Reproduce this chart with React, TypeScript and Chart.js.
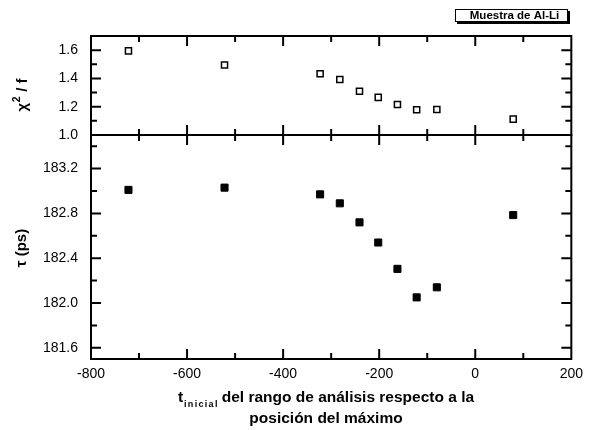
import { useEffect, useRef } from "react";
import { Chart, registerables } from "chart.js";

Chart.register(...registerables);

// ---- data ----
const tInicial = [-722, -522, -323, -282, -241, -202, -162, -122, -80, 79];
const chiValues = [1.595, 1.495, 1.433, 1.393, 1.309, 1.266, 1.216, 1.179, 1.18, 1.112];
const tauValues = [183.01, 183.03, 182.97, 182.89, 182.72, 182.54, 182.305, 182.05, 182.14, 182.785];

const xTicks = [-800, -600, -400, -200, 0, 200];
const xMinorTicks = [-700, -500, -300, -100, 100];
const chiTicks = [1.0, 1.2, 1.4, 1.6];
const chiMinorTicks = [1.1, 1.3, 1.5];
const tauTicks = [181.6, 182.0, 182.4, 182.8, 183.2];
const tauMinorTicks = [181.8, 182.2, 182.6, 183.0, 183.4];

const legendLabel = "Muestra de Al-Li";
const chiTitleParts = ["\u03c7", "2", " / f"];
const tauTitle = "\u03c4 (ps)";
const xTitleMain = "t";
const xTitleSub = "inicial";
const xTitleRest = "del rango de análisis respecto a la";
const xTitleLine2 = "posición del máximo";

const FONT = "'Liberation Sans', Arial, Helvetica, sans-serif";

const framePlugin = {
  id: "frameTicks",
  afterDraw(chart: any) {
    const ctx = chart.ctx as CanvasRenderingContext2D;
    const area = chart.chartArea;
    const xs = chart.scales.x;
    const panels = [
      { s: chart.scales.yChi, major: chiTicks, minor: chiMinorTicks, ty: 95, chi: true },
      { s: chart.scales.yTau, major: tauTicks, minor: tauMinorTicks, ty: 248, chi: false },
    ];
    ctx.save();
    ctx.strokeStyle = "#000";
    ctx.fillStyle = "#000";
    ctx.lineCap = "butt";
    for (const p of panels) {
      const s = p.s;
      const top = s.top;
      const bot = s.bottom;
      ctx.lineWidth = 2;
      ctx.strokeRect(area.left, top, area.right - area.left, bot - top);
      const tick = (vals: number[], len: number) => {
        ctx.beginPath();
        for (const v of vals) {
          const py = s.getPixelForValue(v);
          if (py <= top + 1 || py >= bot - 1) continue;
          ctx.moveTo(area.left, py);
          ctx.lineTo(area.left + len, py);
          ctx.moveTo(area.right, py);
          ctx.lineTo(area.right - len, py);
        }
        ctx.stroke();
      };
      tick(p.major, 10);
      tick(p.minor, 6);
      const xtick = (vals: number[], len: number) => {
        ctx.beginPath();
        for (const v of vals) {
          const px = xs.getPixelForValue(v);
          if (px <= area.left + 1 || px >= area.right - 1) continue;
          ctx.moveTo(px, top);
          ctx.lineTo(px, top + len);
          ctx.moveTo(px, bot);
          ctx.lineTo(px, bot - len);
        }
        ctx.stroke();
      };
      xtick(xTicks, 10);
      xtick(xMinorTicks, 6);

      // y titles
      ctx.save();
      ctx.translate(22, p.ty);
      ctx.rotate(-Math.PI / 2);
      ctx.textBaseline = "middle";
      const big = `bold 15px ${FONT}`;
      const small = `bold 10.5px ${FONT}`;
      if (p.chi) {
        ctx.font = big;
        const w0 = ctx.measureText(chiTitleParts[0]).width;
        const w2 = ctx.measureText(chiTitleParts[2]).width;
        ctx.font = small;
        const w1 = ctx.measureText(chiTitleParts[1]).width;
        let x = -(w0 + w1 + 1 + w2) / 2;
        ctx.textAlign = "left";
        ctx.font = big;
        ctx.fillText(chiTitleParts[0], x, 1);
        x += w0 + 0.5;
        ctx.font = small;
        ctx.fillText(chiTitleParts[1], x, -4.5);
        x += w1 + 0.5;
        ctx.font = big;
        ctx.fillText(chiTitleParts[2], x, 1);
      } else {
        ctx.font = big;
        ctx.textAlign = "center";
        ctx.fillText(tauTitle, 0, 0);
      }
      ctx.restore();
    }

    // x title
    const cx = 326;
    ctx.textBaseline = "alphabetic";
    ctx.textAlign = "left";
    const mainFont = `bold 15.5px ${FONT}`;
    const subFont = `bold 9px ${FONT}`;
    ctx.font = mainFont;
    const wT = ctx.measureText(xTitleMain).width;
    const wRest = ctx.measureText(xTitleRest).width;
    ctx.font = subFont;
    const spacing = 1.3;
    let wSub = 0;
    for (const ch of xTitleSub) wSub += ctx.measureText(ch).width + spacing;
    const gap = 4;
    const total = wT + wSub + gap + wRest;
    let x0 = cx - total / 2;
    const base1 = 402;
    ctx.font = mainFont;
    ctx.fillText(xTitleMain, x0, base1);
    x0 += wT + 1;
    ctx.font = subFont;
    for (const ch of xTitleSub) {
      ctx.fillText(ch, x0, base1 + 5);
      x0 += ctx.measureText(ch).width + spacing;
    }
    x0 += gap - 1;
    ctx.font = mainFont;
    ctx.fillText(xTitleRest, x0, base1);
    ctx.textAlign = "center";
    ctx.fillText(xTitleLine2, cx, 423);

    // legend box
    const bx = 455, by = 9, bw = 113, bh = 13;
    ctx.fillStyle = "#000";
    ctx.fillRect(bx + 2, by + 2, bw, bh);
    ctx.fillStyle = "#fff";
    ctx.fillRect(bx, by, bw, bh);
    ctx.strokeStyle = "#000";
    ctx.lineWidth = 1;
    ctx.strokeRect(bx + 0.5, by + 0.5, bw - 1, bh - 1);
    ctx.fillStyle = "#000";
    ctx.font = `bold 11.5px ${FONT}`;
    ctx.textAlign = "center";
    ctx.textBaseline = "middle";
    ctx.fillText(legendLabel, bx + bw / 2 + 3, by + bh / 2 + 0.5);
    ctx.restore();
  },
};

const tickFont = { family: FONT, size: 14 };

export default function App() {
  const ref = useRef<HTMLCanvasElement>(null);
  useEffect(() => {
    const canvas = ref.current;
    if (!canvas) return;
    const chart = new Chart(canvas, {
      type: "scatter",
      data: {
        datasets: [
          {
            label: "chi2/f",
            data: tInicial.map((x, i) => ({ x, y: chiValues[i] })),
            yAxisID: "yChi",
            pointStyle: "rect",
            pointRadius: 4.3,
            pointBorderWidth: 1.5,
            pointBackgroundColor: "#fff",
            pointBorderColor: "#000",
            showLine: false,
          },
          {
            label: "tau",
            data: tInicial.map((x, i) => ({ x, y: tauValues[i] })),
            yAxisID: "yTau",
            pointStyle: "rect",
            pointRadius: 5,
            pointBorderWidth: 1,
            pointBackgroundColor: "#000",
            pointBorderColor: "#000",
            showLine: false,
          },
        ],
      },
      options: {
        animation: false,
        responsive: false,
        maintainAspectRatio: false,
        layout: { padding: { top: 36, right: 12, left: 0, bottom: 0 } },
        plugins: { legend: { display: false }, tooltip: { enabled: false } },
        scales: {
          x: {
            type: "linear",
            position: "bottom",
            min: -800,
            max: 200,
            grid: { display: false, drawTicks: false },
            border: { display: false },
            afterBuildTicks: (s: any) => {
              s.ticks = xTicks.map((v) => ({ value: v }));
            },
            afterFit: (s: any) => {
              s.height = 71;
            },
            ticks: {
              padding: 7,
              color: "#000",
              font: tickFont,
              maxRotation: 0,
              autoSkip: false,
              callback: (v: any) => String(v),
            },
          },
          yTau: {
            type: "linear",
            position: "left",
            stack: "panels",
            stackWeight: 224,
            min: 181.5,
            max: 183.5,
            grid: { display: false, drawTicks: false },
            border: { display: false },
            afterBuildTicks: (s: any) => {
              s.ticks = tauTicks.map((v) => ({ value: v }));
            },
            afterFit: (s: any) => {
              s.width = 91;
            },
            ticks: {
              padding: 13,
              color: "#000",
              font: tickFont,
              autoSkip: false,
              callback: (v: any) => Number(v).toFixed(1),
            },
          },
          yChi: {
            type: "linear",
            position: "left",
            stack: "panels",
            stackWeight: 99,
            min: 1.0,
            max: 1.7,
            grid: { display: false, drawTicks: false },
            border: { display: false },
            afterBuildTicks: (s: any) => {
              s.ticks = chiTicks.map((v) => ({ value: v }));
            },
            afterFit: (s: any) => {
              s.width = 91;
            },
            ticks: {
              padding: 13,
              color: "#000",
              font: tickFont,
              autoSkip: false,
              callback: (v: any) => Number(v).toFixed(1),
            },
          },
        },
      } as any,
      plugins: [framePlugin],
    });
    return () => chart.destroy();
  }, []);

  return (
    <div style={{ position: "absolute", left: 0, top: 0, width: 590, height: 430, background: "#fff" }}>
      <canvas ref={ref} width={590} height={430} style={{ display: "block", width: 590, height: 430 }} />
    </div>
  );
}
